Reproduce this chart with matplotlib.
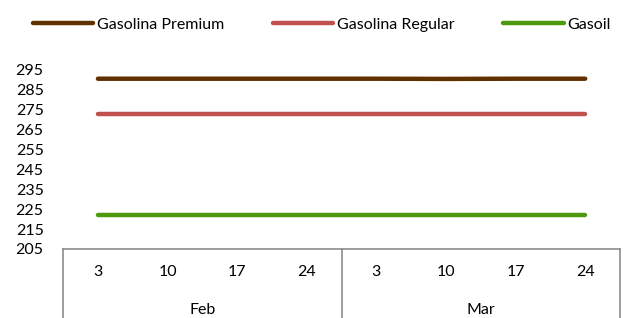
import matplotlib.pyplot as plt
from matplotlib.lines import Line2D
import matplotlib.transforms as mtransforms

plt.rcParams["font.family"] = ["Lato", "DejaVu Sans"]

months = ["Feb", "Mar"]
days = ["3", "10", "17", "24", "3", "10", "17", "24"]

premium = [290.6, 290.6, 290.6, 290.6, 290.6, 290.5, 290.6, 290.6]
regular = [272.9, 272.9, 272.9, 272.9, 272.9, 272.9, 272.9, 272.9]
gasoil = [222.0, 222.0, 222.0, 222.0, 222.0, 222.0, 222.0, 222.0]

SERIES = [
    ("Gasolina Premium", premium, "#613000"),
    ("Gasolina Regular", regular, "#C0504D"),
    ("Gasoil", gasoil, "#4E9A0E"),
]

fig = plt.figure(figsize=(6.25, 3.18), dpi=100)
ax = fig.add_axes([0.101, 0.217, 0.891, 0.563])

x = list(range(len(days)))
for name, values, color in SERIES:
    ax.plot(x, values, color=color, linewidth=3.2, solid_capstyle="round", label=name)

ax.set_xlim(-0.5, len(days) - 0.5)
ax.set_ylim(205, 295)
ax.set_yticks(range(205, 296, 10))
ax.tick_params(axis="y", length=0, labelsize=11.5, pad=14)
ax.set_xticks([])
for side in ("top", "right", "left"):
    ax.spines[side].set_visible(False)
ax.spines["bottom"].set_color("#8c8c8c")
ax.spines["bottom"].set_linewidth(1.2)

# two-level category axis
trans = mtransforms.blended_transform_factory(ax.transData, ax.transAxes)
for i, d in enumerate(days):
    ax.text(i, -0.128, d, transform=trans, ha="center", va="center", fontsize=11.5)
per_month = len(days) // len(months)
for j, m in enumerate(months):
    center = j * per_month + (per_month - 1) / 2
    ax.text(center, -0.343, m, transform=trans, ha="center", va="center", fontsize=11.5)
for b in range(len(months) + 1):
    xb = b * per_month - 0.5
    ax.add_line(Line2D([xb, xb], [0, -0.4], transform=trans, color="#8c8c8c",
                       linewidth=1.2, clip_on=False))

fig.legend(loc="center", bbox_to_anchor=(0.515, 0.922), ncol=3, frameon=False,
           fontsize=11.5, handlelength=3.8, handletextpad=0.25, columnspacing=3.0,
           borderaxespad=0)

fig.savefig("out.png", dpi=100)
